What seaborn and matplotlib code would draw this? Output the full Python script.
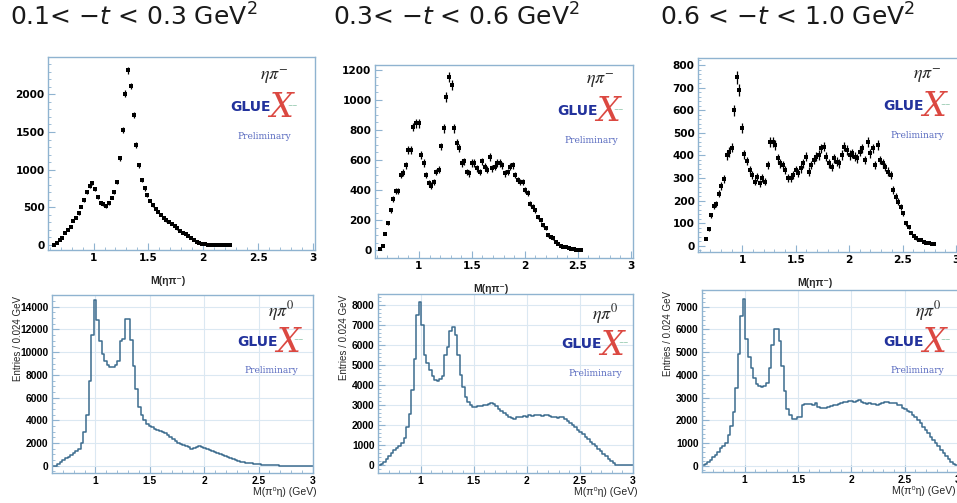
import numpy as np
import pandas as pd
import matplotlib
matplotlib.use("Agg")
import matplotlib.pyplot as plt
import seaborn as sns
from matplotlib.ticker import MultipleLocator, FuncFormatter

# ---------------- data ----------------
titles = ["0.1< $-t$ < 0.3 GeV$^2$", "0.3< $-t$ < 0.6 GeV$^2$", "0.6 < $-t$ < 1.0 GeV$^2$"]
top_label = r"$\eta\pi^{-}$"
bot_label = r"$\eta\pi^{0}$"
top_xlabel = "M(ηπ⁻)"
bot_xlabel = "M(π⁰η) (GeV)"
bot_ylabel = "Entries / 0.024 GeV"

# top row: eta pi- (points with errors); bin start and width per panel
top1_start, top1_width = 0.640, 0.025
y_top1 = [5, 30, 60, 95, 160, 200, 240, 320, 360, 420, 510, 600, 700, 780, 825,
          740, 640, 560, 540, 520, 560, 630, 710, 840, 1150, 1530, 2010, 2320, 2110,
          1730, 1330, 1060, 860, 750, 665, 590, 530, 480, 440, 400, 360, 330, 305,
          280, 255, 220, 190, 165, 140, 115, 90, 62, 45, 30, 18, 10, 6, 4, 3, 2, 2,
          1, 1, 1, 1]

top2_start, top2_width = 0.636, 0.024
y_top2 = [5, 30, 110, 180, 265, 340, 395, 395, 500, 515, 565, 665, 665, 820, 845,
          845, 635, 580, 500, 445, 430, 455, 520, 535, 690, 810, 1020, 1155, 1100,
          810, 710, 680, 580, 590, 520, 510, 580, 580, 545, 520, 590, 555, 535, 620,
          545, 555, 580, 580, 565, 510, 520, 555, 565, 500, 465, 455, 455, 400, 380,
          310, 290, 265, 220, 200, 165, 145, 100, 90, 78, 55, 40, 30, 22, 18, 12, 8,
          5, 3, 2, 1]

top3_start, top3_width = 0.660, 0.024
y_top3 = [30, 75, 135, 175, 185, 230, 265, 295, 400, 415, 435, 600, 745, 690, 520,
          405, 375, 336, 314, 284, 306, 277, 299, 284, 358, 460, 461, 446, 387, 365,
          358, 336, 299, 299, 314, 336, 321, 343, 365, 395, 329, 358, 380, 395, 402,
          431, 439, 395, 365, 350, 387, 373, 365, 402, 439, 424, 402, 409, 395, 387,
          417, 431, 380, 461, 409, 431, 358, 446, 380, 365, 350, 329, 314, 247, 218,
          196, 174, 144, 100, 85, 59, 45, 34, 28, 25, 19, 15, 12, 10, 9]

# bottom row: eta pi0 histograms, 0.024 GeV bins from 0.6 GeV
hist_lo, hist_width = 0.6, 0.024
y_bot1 = [0, 0, 150, 350, 500, 650, 800, 950, 1100, 1300, 1500, 2000, 3000, 4500,
          7500, 11500, 14600, 12800, 11000, 9800, 9200, 8900, 8650, 8700, 8850, 9200,
          11000, 11200, 12900, 12900, 11100, 8800, 6800, 5200, 4500, 4000, 3700, 3500,
          3400, 3250, 3150, 3100, 3000, 2850, 2700, 2500, 2350, 2150, 2000, 1900, 1850,
          1750, 1650, 1450, 1550, 1650, 1700, 1650, 1550, 1450, 1350, 1300, 1250, 1150,
          1050, 950, 850, 750, 650, 560, 480, 420, 370, 320, 280, 240, 200, 170, 150,
          130, 110, 90, 70, 55, 45, 35, 28, 22, 18, 14, 10, 8, 6, 5, 4, 3, 2, 2, 1, 1]
y_bot2 = [0, 30, 170, 320, 470, 620, 740, 830, 960, 1100, 1350, 1900, 2550, 3750,
          5300, 7500, 8150, 7000, 5500, 5100, 4750, 4450, 4250, 4200, 4300, 4450, 5500,
          5900, 6700, 6900, 6500, 5500, 4500, 3900, 3400, 3150, 3000, 2920, 2900, 2950,
          2950, 3000, 3000, 3050, 3100, 3050, 2950, 2800, 2700, 2580, 2500, 2400, 2350,
          2280, 2380, 2420, 2400, 2450, 2420, 2480, 2450, 2500, 2480, 2500, 2460, 2500,
          2480, 2450, 2420, 2400, 2350, 2380, 2420, 2300, 2200, 2100, 1980, 1880, 1760,
          1650, 1530, 1410, 1300, 1170, 1050, 930, 800, 680, 560, 440, 320, 200, 90, 20,
          0, 0, 0, 0, 0, 0]
y_bot3 = [20, 80, 180, 260, 360, 480, 620, 760, 880, 1000, 1350, 1750, 2350, 3400,
          4900, 6600, 7350, 5600, 4800, 4300, 3850, 3600, 3500, 3450, 3500, 3650, 4300,
          5300, 6000, 6000, 5500, 4400, 3300, 2500, 2250, 2050, 2050, 2150, 2150, 2650,
          2700, 2700, 2700, 2680, 2750, 2600, 2550, 2520, 2550, 2600, 2620, 2650, 2680,
          2720, 2750, 2800, 2820, 2850, 2860, 2820, 2840, 2870, 2800, 2760, 2720, 2740,
          2700, 2720, 2660, 2700, 2780, 2800, 2820, 2760, 2780, 2740, 2680, 2650, 2550,
          2500, 2420, 2350, 2250, 2150, 2020, 1880, 1720, 1570, 1420, 1280, 1130, 980,
          850, 700, 560, 420, 300, 180, 80, 20]

# ---------------- style ----------------
sns.set_theme(style="white")
plt.rcParams["font.family"] = ["DejaVu Sans"]
LIB_FONT = ["Liberation Sans", "DejaVu Sans"]

spine_c = "#8fb3d0"
grid_c = "#dbe8f2"
hist_c = "#3c6c8e"

fig = plt.figure(figsize=(9.57, 5.03), dpi=100)

top_rects = [[0.0502, 0.503, 0.279, 0.3837],
             [0.3918, 0.4871, 0.2696, 0.3837],
             [0.7294, 0.499, 0.2717, 0.3857]]
bot_rects = [[0.0543, 0.0596, 0.2727, 0.3539],
             [0.395, 0.0596, 0.2665, 0.3559],
             [0.7335, 0.0616, 0.2675, 0.3618]]
top_ylims = [(-66, 2495), (-53, 1233), (-27, 831)]
top_ymaj = [(500, 100), (200, 50), (100, 20)]
bot_ylims = [(-640, 15030), (-400, 8550), (-280, 7735)]
bot_ymaj = [(2000, 500), (1000, 200), (1000, 200)]
top_anchor = [(0.90, 0.90), (0.93, 0.92), (0.935, 0.91)]
bot_anchor = [(0.93, 0.91), (0.945, 0.89), (0.935, 0.885)]
bot_xlab_dx = [3, 3, -2]
title_x = [10, 333, 660]


def fmt(v, pos):
    return "%g" % v


def style_axes(ax, xlim, ylim, ymaj, grid, tfont, tsize):
    ax.set_xlim(*xlim)
    ax.set_ylim(*ylim)
    for s in ax.spines.values():
        s.set_visible(True)
        s.set_color(spine_c)
        s.set_linewidth(1.0)
    ax.xaxis.set_major_locator(MultipleLocator(0.5))
    ax.xaxis.set_minor_locator(MultipleLocator(0.1))
    ax.yaxis.set_major_locator(MultipleLocator(ymaj[0]))
    ax.yaxis.set_minor_locator(MultipleLocator(ymaj[1]))
    ax.xaxis.set_major_formatter(FuncFormatter(fmt))
    ax.yaxis.set_major_formatter(FuncFormatter(fmt))
    ax.tick_params(which="major", direction="in", length=5, width=0.8,
                   color=spine_c, labelcolor="black", pad=2.5,
                   bottom=True, left=True, top=False, right=False)
    ax.tick_params(which="minor", direction="in", length=2.5, width=0.6,
                   color=spine_c, bottom=True, left=True, top=False, right=False)
    for lab in ax.get_xticklabels() + ax.get_yticklabels():
        lab.set_fontfamily(tfont)
        lab.set_fontweight("bold")
        lab.set_fontsize(tsize)
    ax.set_xlabel("")
    ax.set_ylabel("")
    if grid:
        ax.grid(True, which="major", color=grid_c, linewidth=0.8)
        ax.set_axisbelow(True)
    else:
        ax.grid(False)


def logo(ax, anchor, label):
    xr, yc = anchor
    kw = dict(xy=(xr, yc), xycoords="axes fraction", textcoords="offset points")
    ax.annotate(label, xytext=(0, 0), ha="right", va="center", fontsize=13,
                math_fontfamily="stix", **kw)
    ax.annotate("GLUE", xytext=(-27, -22), ha="center", va="center", fontsize=10,
                fontweight="heavy", color="#22329c", **kw)
    ax.annotate("X", xytext=(-5, -23), ha="center", va="center", fontsize=24,
                color="#d8342c", style="italic", family="DejaVu Serif", alpha=0.9,
                **kw)
    ax.annotate("~~", xytext=(3, -21), ha="center", va="center", fontsize=4.5,
                color="#3a9a6a", **kw)
    ax.annotate("Preliminary", xytext=(-17, -43), ha="center", va="center",
                fontsize=6.5, color="#5a6cc0", family="DejaVu Serif", **kw)


top_data = [(top1_start, top1_width, y_top1),
            (top2_start, top2_width, y_top2),
            (top3_start, top3_width, y_top3)]

for i in range(3):
    # ---- top panel ----
    ax = fig.add_axes(top_rects[i])
    start, width, yv = top_data[i]
    yv = np.asarray(yv, dtype=float)
    xv = start + width * np.arange(len(yv))
    yerr = np.sqrt(yv)  # statistical uncertainty
    ax.errorbar(xv, yv, yerr=yerr, fmt="none", ecolor="black", elinewidth=0.9,
                capsize=0)
    sns.scatterplot(x=xv, y=yv, ax=ax, color="black", marker="s", s=5,
                    linewidth=0)
    style_axes(ax, (0.585, 3.02), top_ylims[i], top_ymaj[i], False,
               "DejaVu Sans", 7.6)
    logo(ax, top_anchor[i], top_label)
    ax.annotate(top_xlabel, xy=(0.45, 0), xycoords="axes fraction",
                xytext=(0, -22), textcoords="offset points", ha="center",
                va="center", fontsize=7.5, fontweight="bold", family=LIB_FONT)

    # ---- bottom panel ----
    axb = fig.add_axes(bot_rects[i])
    counts = np.asarray([y_bot1, y_bot2, y_bot3][i], dtype=float)
    edges = hist_lo + hist_width * np.arange(len(counts) + 1)
    centers = edges[:-1] + hist_width / 2
    df = pd.DataFrame({"mass": centers, "entries": counts})
    sns.histplot(data=df, x="mass", weights="entries", bins=[float(e) for e in edges],
                 element="step", fill=False, color=hist_c, linewidth=1.1, ax=axb)
    style_axes(axb, (0.6, 3.0), bot_ylims[i], bot_ymaj[i], True, LIB_FONT, 7.4)
    logo(axb, bot_anchor[i], bot_label)
    axb.annotate(bot_xlabel, xy=(1.0, 0), xycoords="axes fraction",
                 xytext=(bot_xlab_dx[i], -14), textcoords="offset points",
                 ha="right", va="center", fontsize=7.5, family=LIB_FONT)
    axb.annotate(bot_ylabel, xy=(0, 1.0), xycoords="axes fraction",
                 xytext=(-24.5, -1), textcoords="offset points", ha="center",
                 va="top", rotation=90, fontsize=7, family=LIB_FONT)

    # ---- column title ----
    fig.text(title_x[i] / 957, 1 - 26 / 503, titles[i], ha="left",
             va="baseline", fontsize=18, color="#1a1a1a",
             math_fontfamily="dejavusans")

fig.savefig("out.png", dpi=100, facecolor="white")
